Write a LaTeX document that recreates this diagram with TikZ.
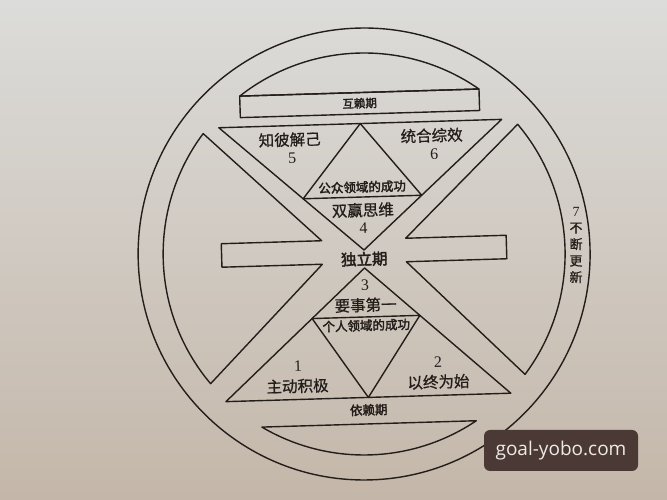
\documentclass[tikz,border=0pt]{standalone}
\usepackage{fontspec}
\setmainfont{Liberation Serif}
\newfontfamily\cjk[AutoFakeBold=2.5]{Noto Sans CJK SC}
\newfontfamily\cjkm[FakeBold=0.8]{Noto Sans CJK SC}
\newfontfamily\wmfont{Open Sans}
\usetikzlibrary{calc}
\definecolor{ink}{HTML}{241E1B}
\definecolor{papertop}{HTML}{DCDCDA}
\definecolor{paperbot}{HTML}{C4B7A9}
\definecolor{wmbg}{HTML}{4A3934}
\definecolor{wmtext}{HTML}{EEEAE6}
\begin{document}
\begin{tikzpicture}[x=1pt,y=1pt,line join=round]
\tikzset{
  outline/.style={draw=ink,line width=1.4pt},
  bigtext/.style={font=\cjkm\fontsize{15.5}{16}\selectfont,text=ink,inner sep=0pt,transform shape},
  numtext/.style={font=\fontsize{16}{16}\selectfont,text=ink,inner sep=0pt,transform shape},
  smalltext/.style={font=\cjk\bfseries\fontsize{12.5}{13}\selectfont,text=ink,inner sep=0pt,transform shape},
}
\shade[top color=papertop,bottom color=paperbot] (0,0) rectangle (667,500);
\useasboundingbox (0,0) rectangle (667,500);
\begin{scope}[rotate around={1.7:(364,250)}]
  \coordinate (C) at (364,246);
  % outer circle
  \draw[outline] (C) circle[radius=226];
  % top cap and band
  \draw[outline] (244.3,407.5) -- (483.7,407.5) arc[start angle=53.46,end angle=126.54,radius=201] -- cycle;
  \draw[outline] (244.3,386) rectangle (483.7,407.5);
  % bottom cap
  \draw[outline] (256.8,76) -- (471.2,76) arc[start angle=302.25,end angle=237.75,radius=201] -- cycle;
  % left shape
  \draw[outline] (206.7,371.1) -- (322,260.5) -- (221.5,260.5) -- (221.5,237) -- (322,237) -- (206.7,120.9)
     arc[start angle=218.5,end angle=141.5,radius=201] -- cycle;
  % right shape
  \draw[outline] (521.3,371.1) -- (406,260.5) -- (506.5,260.5) -- (506.5,237) -- (406,237) -- (521.3,120.9)
     arc[start angle=-38.5,end angle=38.5,radius=201] -- cycle;
  % top triangles
  \draw[outline] (222.5,376.5) -- (505.5,376.5) -- (364,250) -- cycle;
  \draw[outline] (364,376.5) -- (304.7,303) -- (423.3,303) -- cycle;
  % bottom triangles
  \draw[outline] (221.5,102.5) -- (506.5,102.5) -- (364,232) -- cycle;
  \draw[outline] (364,102.5) -- (310.1,183) -- (417.9,183) -- cycle;
  % labels
  \node[smalltext,font=\cjk\bfseries\fontsize{11.5}{12}\selectfont] (hulai) at (364,396.8) {互赖期};
  \node[bigtext] (zhibi) at (293,362.5) {知彼解己};
  \node[numtext] (n5) at (295,344) {5};
  \node[bigtext] (tonghe) at (435,362.5) {统合综效};
  \node[numtext] (n6) at (437,344) {6};
  \node[smalltext] (gongzhong) at (364,313) {公众领域的成功};
  \node[bigtext] (shuangying) at (364,290) {双赢思维};
  \node[numtext] (n4) at (364,271.5) {4};
  \node[bigtext,font=\cjk\bfseries\fontsize{15.5}{16}\selectfont] (duli) at (364,241) {独立期};
  \node[numtext] (n3) at (364,215) {3};
  \node[bigtext] (yaoshi) at (364,195) {要事第一};
  \node[smalltext] (geren) at (364,174.5) {个人领域的成功};
  \node[numtext] (n1) at (294.5,136) {1};
  \node[bigtext] (zhudong) at (293.5,116) {主动积极};
  \node[numtext] (n2) at (434.5,136) {2};
  \node[bigtext] (yizhong) at (434.5,116) {以终为始};
  \node[smalltext] (yilai) at (364,90) {依赖期};
\end{scope}
\node[text=ink,inner sep=0pt,align=center,font=\cjkm\fontsize{13}{16.5}\selectfont] (renew) at (576,255)
  {{\normalfont\fontsize{14}{16.5}\selectfont 7}\\不\\断\\更\\新};
\node[fill=wmbg,rounded corners=6pt,minimum width=154pt,minimum height=41pt,inner sep=0pt,
  text=wmtext,font=\wmfont\fontsize{19}{19}\selectfont] (wm) at (561,49.5) {goal-yobo.com};
\end{tikzpicture}
\end{document}
